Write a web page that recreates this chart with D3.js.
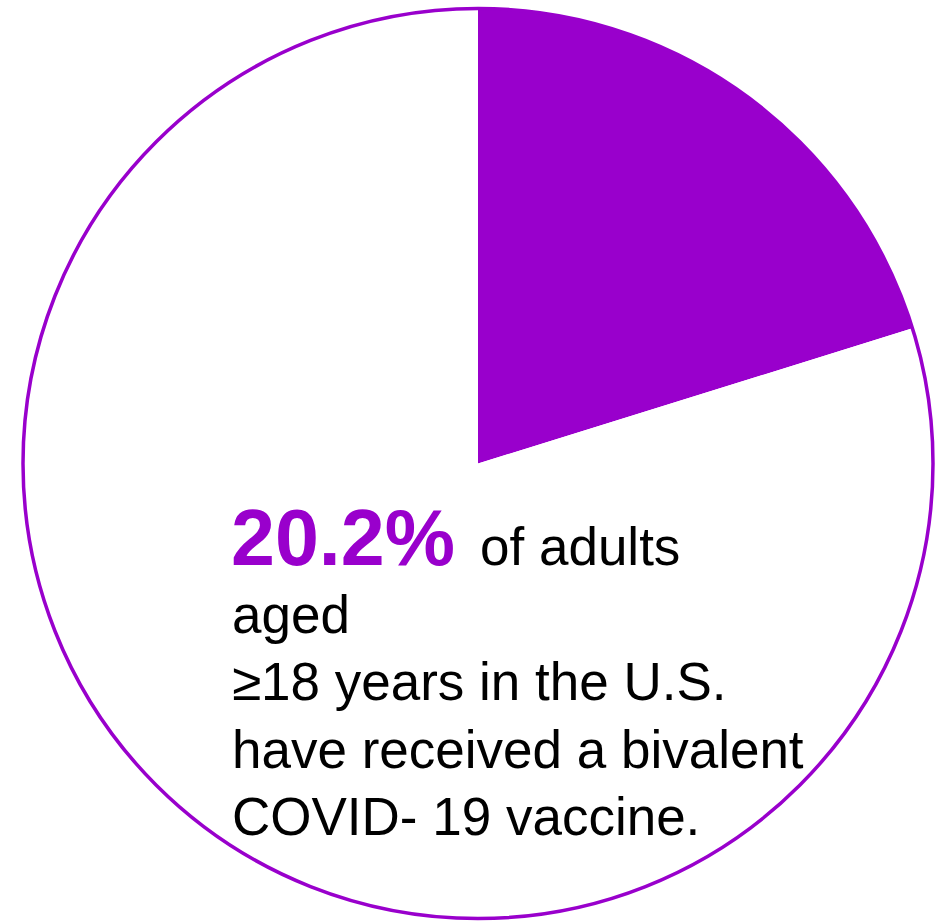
<!DOCTYPE html>
<html>
<head>
<meta charset="utf-8">
<script src="https://cdn.jsdelivr.net/npm/d3@7"></script>
<style>
  html, body { margin: 0; padding: 0; background: #ffffff; }
  svg { display: block; }
</style>
</head>
<body>
<script>
// Share of adults who received the bivalent dose vs. those who did not
const categories = ["Received bivalent vaccine", "Not received"];
const shares = [20.2, 79.8];
const sliceColors = ["#9900cc", "#ffffff"];

// Caption lines (first line starts with the highlighted figure)
const highlight = "20.2%";
const captionLines = ["of adults", "aged", "\u226518 years in the U.S.", "have received a bivalent", "COVID- 19 vaccine."];

const W = 940, H = 922;
const cx = 478, cy = 463.5, R = 455;
const purple = "#9900cc";

const svg = d3.select("body").append("svg")
  .attr("width", W).attr("height", H);

const pie = d3.pie().sort(null).value(d => d);
const arc = d3.arc().innerRadius(0).outerRadius(R);

const g = svg.append("g").attr("transform", `translate(${cx},${cy})`);

g.selectAll("path.slice")
  .data(pie(shares))
  .join("path")
  .attr("class", "slice")
  .attr("d", arc)
  .attr("fill", (d, i) => sliceColors[i])
  .attr("stroke", "none");

// Outer ring
g.append("circle")
  .attr("r", R)
  .attr("fill", "none")
  .attr("stroke", purple)
  .attr("stroke-width", 3.5);

// Caption
const font = "'Liberation Sans', Arial, Helvetica, sans-serif";
const x0 = 231, y0 = 565, lh = 67.5;

const first = svg.append("text")
  .attr("x", x0).attr("y", y0)
  .attr("font-family", font);
first.append("tspan")
  .attr("font-size", 79)
  .attr("font-weight", "bold")
  .attr("fill", purple)
  .text(highlight);
first.append("tspan")
  .attr("x", 480)
  .attr("font-size", 53)
  .attr("fill", "#000")
  .text(captionLines[0]);

svg.selectAll("text.line")
  .data(captionLines.slice(1))
  .join("text")
  .attr("class", "line")
  .attr("x", x0 + 1)
  .attr("y", (d, i) => y0 + lh * (i + 1))
  .attr("font-family", font)
  .attr("font-size", 53)
  .attr("fill", "#000")
  .text(d => d);
</script>
</body>
</html>
